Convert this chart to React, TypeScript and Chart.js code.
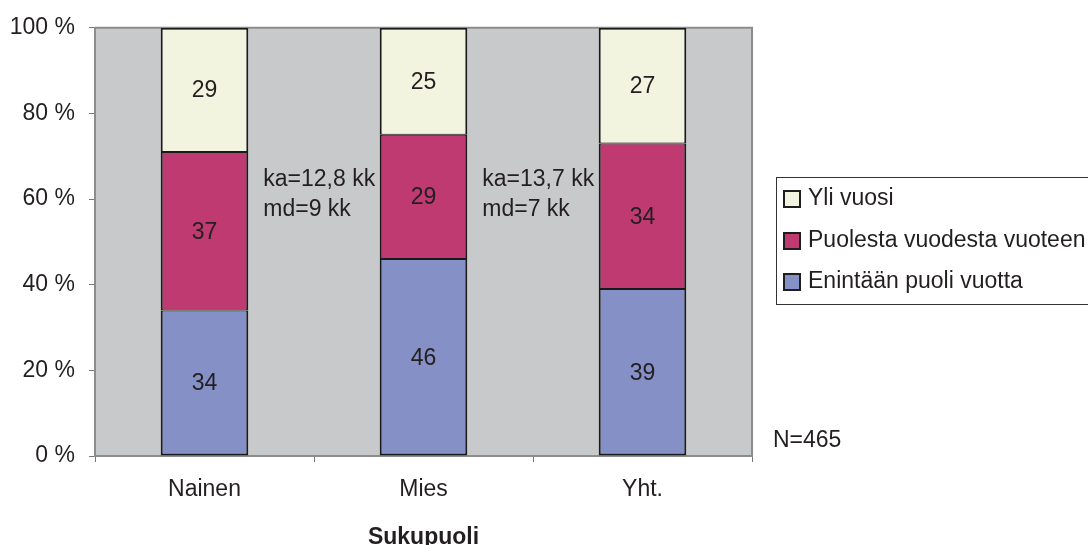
import React, { useEffect, useRef } from "react";
import { Chart, registerables } from "chart.js";

Chart.register(...registerables);

const categories = ["Nainen", "Mies", "Yht."];
const seriesLabels = ["Enintään puoli vuotta", "Puolesta vuodesta vuoteen", "Yli vuosi"];
const shortValues = [34, 46, 39];
const midValues = [37, 29, 34];
const longValues = [29, 25, 27];
const seriesColors = ["#8490c6", "#c03a72", "#f3f4e0"];
const yTicks = [0, 20, 40, 60, 80, 100];
const noteCategories = [0, 1];
const noteLines = [
  ["ka=12,8 kk", "md=9 kk"],
  ["ka=13,7 kk", "md=7 kk"],
];
const nLabel = "N=465";
const xTitle = "Sukupuoli";

const FONT = '"Liberation Sans", Arial, Helvetica, sans-serif';
const TEXT = "#231f20";

const decorPlugin = {
  id: "decor",
  beforeDraw(chart: any) {
    const { ctx, chartArea: a } = chart;
    ctx.save();
    ctx.fillStyle = "#c8c9cb";
    ctx.fillRect(a.left, a.top, a.right - a.left, a.bottom - a.top);
    ctx.restore();
  },
  beforeDatasetsDraw(chart: any) {
    const { ctx, chartArea: a } = chart;
    ctx.save();
    ctx.strokeStyle = "#8c8c8c";
    ctx.lineWidth = 2;
    ctx.beginPath();
    ctx.moveTo(a.left, a.top);
    ctx.lineTo(a.right, a.top);
    ctx.lineTo(a.right, a.bottom);
    ctx.stroke();
    ctx.restore();
  },
  afterDatasetsDraw(chart: any) {
    const { ctx } = chart;
    ctx.save();
    ctx.font = `23px ${FONT}`;
    ctx.fillStyle = TEXT;
    ctx.textAlign = "center";
    ctx.textBaseline = "middle";
    chart.data.datasets.forEach((ds: any, di: number) => {
      const meta = chart.getDatasetMeta(di);
      meta.data.forEach((el: any, i: number) => {
        ctx.fillText(String(ds.data[i]), el.x, (el.y + el.base) / 2 + 1);
      });
    });
    ctx.restore();
  },
  afterDraw(chart: any) {
    const { ctx, chartArea: a, scales } = chart;
    const ys = scales.y;
    ctx.save();
    ctx.font = `23px ${FONT}`;
    ctx.fillStyle = TEXT;
    ctx.textAlign = "left";
    ctx.textBaseline = "middle";
    // annotations
    const meta0 = chart.getDatasetMeta(0);
    noteCategories.forEach((c, k) => {
      const el: any = meta0.data[c];
      const x = el.x + el.width / 2 + 15;
      const cy = ys.getPixelForValue(61);
      ctx.fillText(noteLines[k][0], x, cy - 15);
      ctx.fillText(noteLines[k][1], x, cy + 15);
    });
    // N label
    ctx.fillText(nLabel, a.right + 21, ys.getPixelForValue(3.7));
    // legend
    const lx = a.right + 24;
    const ly = 177;
    ctx.strokeStyle = "#333";
    ctx.lineWidth = 1;
    ctx.strokeRect(lx + 0.5, ly + 0.5, 400, 127);
    const items = chart.data.datasets.slice().reverse();
    const offsets = [22, 64, 105];
    items.forEach((ds: any, i: number) => {
      const cy = ly + offsets[i];
      ctx.fillStyle = ds.backgroundColor;
      ctx.fillRect(lx + 8, cy - 8, 16, 16);
      ctx.strokeStyle = "#1e1e1e";
      ctx.lineWidth = 2;
      ctx.strokeRect(lx + 8, cy - 8, 16, 16);
      ctx.fillStyle = TEXT;
      ctx.fillText(ds.label, lx + 32, cy);
    });
    ctx.restore();
  },
};

export default function App() {
  const ref = useRef<HTMLCanvasElement | null>(null);

  useEffect(() => {
    document.body.style.margin = "0";
    if (!ref.current) return;
    Chart.defaults.font.family = FONT;
    const valueSets = [shortValues, midValues, longValues];
    const borders = [
      { top: 1, bottom: 2, left: 2, right: 2 },
      { top: 1, bottom: 1, left: 2, right: 2 },
      { top: 2, bottom: 1, left: 2, right: 2 },
    ];
    const chart = new Chart(ref.current, {
      type: "bar",
      data: {
        labels: categories,
        datasets: seriesLabels.map((label, i) => ({
          label,
          data: valueSets[i],
          backgroundColor: seriesColors[i],
          borderColor: "#1a1a1a",
          borderWidth: borders[i] as any,
          borderSkipped: false as any,
          barPercentage: 0.4,
          categoryPercentage: 1,
        })),
      },
      options: {
        animation: false,
        responsive: true,
        maintainAspectRatio: false,
        layout: { padding: { top: 26, right: 336, left: 0, bottom: 0 } },
        plugins: { legend: { display: false }, tooltip: { enabled: false }, title: { display: false } },
        scales: {
          x: {
            stacked: true,
            grid: { drawOnChartArea: false, tickLength: 6, color: "#777", offset: true },
            border: { color: "#8c8c8c", width: 2 },
            ticks: { padding: 14, color: TEXT, font: { size: 23 } },
            title: {
              display: true,
              text: xTitle,
              color: TEXT,
              font: { size: 23, weight: "bold", lineHeight: 0.6 },
              padding: { top: 0, bottom: 0 },
            },
            afterFit(s: any) {
              s.height = 89;
            },
          },
          y: {
            stacked: true,
            min: 0,
            max: 100,
            afterBuildTicks(s: any) {
              s.ticks = yTicks.map((v) => ({ value: v }));
            },
            grid: { drawOnChartArea: false, tickLength: 6, color: "#777" },
            border: { color: "#8c8c8c", width: 2 },
            ticks: {
              padding: 14,
              color: TEXT,
              font: { size: 23 },
              callback: (v: any) => `${v} %`,
            },
            afterFit(s: any) {
              s.width = 95;
            },
          },
        },
      },
      plugins: [decorPlugin],
    });
    return () => chart.destroy();
  }, []);

  return (
    <div style={{ position: "absolute", left: 0, top: 0, width: 1088, height: 545, background: "#fff" }}>
      <canvas ref={ref} />
    </div>
  );
}
